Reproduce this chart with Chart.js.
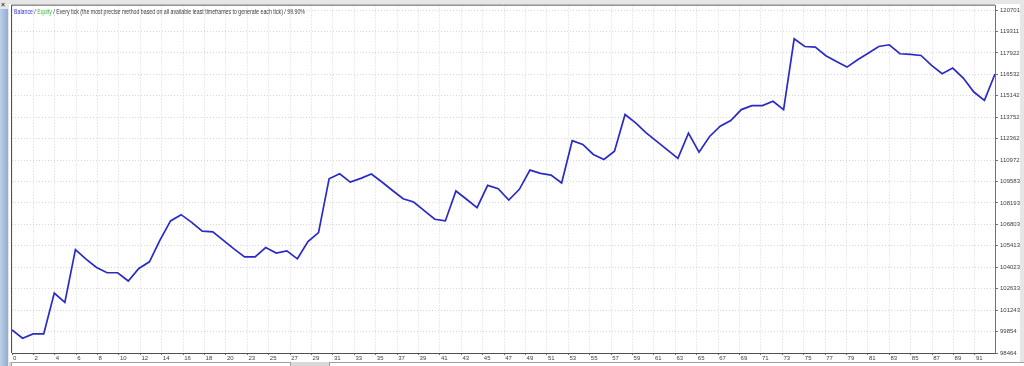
<!DOCTYPE html>
<html>
<head>
<meta charset="utf-8">
<title>Balance / Equity</title>
<script src="https://cdn.jsdelivr.net/npm/chart.js@4.4.1/dist/chart.umd.min.js"></script>
<style>
  html, body { margin: 0; padding: 0; background: #ececec; overflow: hidden; }
  #wrap { width: 1024px; height: 366px; }
</style>
</head>
<body>
<div id="wrap"><canvas id="balanceChart" width="1024" height="366"></canvas></div>
<script>
// Balance after each trade
const balance = [
    99964, 99421, 99705, 99705, 102355, 101748, 105174, 104553, 104010, 103668,
    103668, 103131, 103945, 104379, 105781, 107029, 107436, 106932, 106363, 106318,
    105768, 105219, 104702, 104702, 105303, 104941, 105090, 104572, 105691, 106273,
    109763, 110086, 109550, 109789, 110067, 109550, 109000, 108470, 108257, 107701,
    107139, 107029, 108968, 108432, 107888, 109336, 109117, 108386, 109078, 110325,
    110112, 110002, 109485, 112232, 111987, 111340, 111017, 111554, 113926, 113383,
    112737, 112187, 111631, 111082, 112717, 111489, 112504, 113170, 113538, 114249,
    114508, 114508, 114786, 114249, 118839, 118341, 118296, 117740, 117371, 117003,
    117481, 117908, 118341, 118451, 117869, 117824, 117759, 117113, 116576, 116938,
    116292, 115387, 114850, 116550
];

// trade numbers printed under the x grid lines
const xTickLabels = [
    0, 2, 4, 6, 8, 10, 12, 14, 16, 18, 20, 23, 25, 27, 29, 31, 33, 35, 37, 39,
    41, 43, 45, 47, 49, 51, 53, 55, 57, 59, 61, 63, 65, 67, 69, 71, 73, 75, 77, 79,
    81, 83, 85, 87, 89, 91
];

// balance levels printed on the right axis
const yTickLabels = [
    98464, 99854, 101243, 102633, 104023, 105413, 106803, 108193, 109583, 110972,
    112362, 113752, 115142, 116532, 117922, 119311, 120701
];

const X_STEP = 2.0246;     // one x grid cell, in trades
const FONT = '"Liberation Sans", Arial, sans-serif';

// window chrome around the plot: grey frame, blue strip, scroll bar, title
const testerFrame = {
    id: 'testerFrame',
    beforeDraw(chart) {
        const ctx = chart.ctx;
        ctx.save();
        ctx.fillStyle = '#e6e6e6';
        ctx.fillRect(0, 0, 1024, 366);
        ctx.fillStyle = '#ffffff';
        ctx.fillRect(9, 4, 1011, 358);

        // blue strip on the left
        const grad = ctx.createLinearGradient(0, 0, 8, 0);
        grad.addColorStop(0, '#bccfe8');
        grad.addColorStop(1, '#93acd2');
        ctx.fillStyle = grad;
        ctx.fillRect(0, 9, 8, 357);

        // scroll bar along the bottom
        ctx.fillStyle = '#d8d8d8';
        ctx.fillRect(9, 362, 1015, 4);
        ctx.fillStyle = '#ffffff';
        ctx.strokeStyle = '#a0a0a0';
        ctx.fillRect(12, 363, 278, 3);
        ctx.strokeRect(11.5, 362.5, 279, 4);
        ctx.fillRect(330, 363, 694, 3);
        ctx.strokeRect(329.5, 362.5, 700, 4);

        // close cross
        ctx.fillStyle = '#404040';
        ctx.font = 'bold 7px ' + FONT;
        ctx.textBaseline = 'middle';
        ctx.fillText('×', 1, 5);
        ctx.restore();
    },
    afterDraw(chart) {
        const ctx = chart.ctx;
        const area = chart.chartArea;
        ctx.save();
        // left and top edges of the plot box
        ctx.strokeStyle = '#505050';
        ctx.lineWidth = 1;
        ctx.beginPath();
        ctx.moveTo(area.left - 0.5, area.bottom);
        ctx.lineTo(area.left - 0.5, area.top - 0.5);
        ctx.lineTo(area.right, area.top - 0.5);
        ctx.stroke();

        // title line (Tahoma is narrower than anything installed, so squeeze it a bit)
        const parts = [
            ['Balance', '#3a3ad0'],
            [' / ', '#404040'],
            ['Equity', '#3cba3c'],
            [' / Every tick (the most precise method based on all available least timeframes to generate each tick) / 99.90%', '#404040']
        ];
        ctx.font = '6.5px ' + FONT;
        ctx.textBaseline = 'middle';
        const full = parts.map(p => p[0]).join('');
        const squeeze = 291 / ctx.measureText(full).width;
        ctx.translate(area.left + 2, 12);
        ctx.scale(squeeze, 1);
        let x = 0;
        parts.forEach(([text, color]) => {
            ctx.fillStyle = color;
            ctx.fillText(text, x, 0);
            x += ctx.measureText(text).width;
        });
        ctx.restore();
    }
};

const ctx = document.getElementById('balanceChart').getContext('2d');
const chart = new Chart(ctx, {
    type: 'line',
    data: {
        datasets: [{
            data: balance.map((v, i) => ({ x: i, y: v })),
            borderColor: '#2a2ac6',
            borderWidth: 1.7,
            pointRadius: 0,
            tension: 0,
            fill: false
        }]
    },
    options: {
        responsive: false,
        animation: false,
        layout: { padding: { left: 12, top: 4, right: 0, bottom: 0 } },
        plugins: {
            legend: { display: false },
            tooltip: { enabled: false }
        },
        scales: {
            x: {
                type: 'linear',
                min: 0,
                max: balance.length - 1,
                afterBuildTicks: scale => {
                    scale.ticks = xTickLabels.map((lab, k) => ({ value: k * X_STEP }));
                },
                afterFit: scale => { scale.height = 13; },
                grid: {
                    color: '#d6d6d6',
                    tickColor: '#707070',
                    tickLength: 2
                },
                border: { color: '#505050', width: 1, dash: [1, 2] },
                ticks: {
                    autoSkip: false,
                    maxRotation: 0,
                    align: 'start',
                    labelOffset: 1,
                    padding: 0,
                    color: '#404040',
                    font: { family: FONT, size: 6 },
                    callback: (value, index) => xTickLabels[index]
                }
            },
            y: {
                position: 'right',
                min: 98464,
                max: 120992,
                afterBuildTicks: scale => {
                    scale.ticks = yTickLabels.map(v => ({ value: v }));
                },
                afterFit: scale => { scale.width = 29; },
                grid: {
                    color: '#d6d6d6',
                    tickColor: '#707070',
                    tickLength: 3
                },
                border: { color: '#707070', width: 1, dash: [1, 2] },
                ticks: {
                    autoSkip: false,
                    padding: 2,
                    color: '#404040',
                    font: { family: FONT, size: 6 },
                    callback: value => String(value)
                }
            }
        }
    },
    plugins: [testerFrame]
});
</script>
</body>
</html>
